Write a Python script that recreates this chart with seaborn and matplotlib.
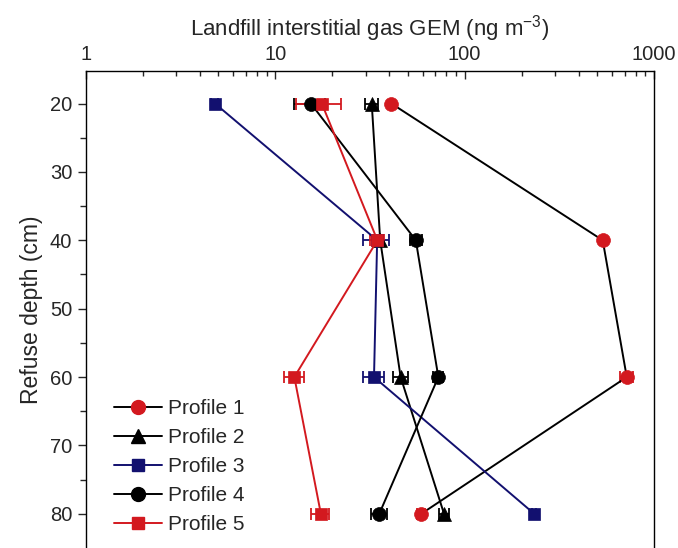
import numpy as np
import pandas as pd
import seaborn as sns
import matplotlib
matplotlib.use("Agg")
import matplotlib.pyplot as plt
from matplotlib.lines import Line2D
from matplotlib.ticker import LogLocator, FixedLocator, NullFormatter, FuncFormatter

# ---- data ----
depth = [20, 40, 60, 80]
profile_names = ["Profile 1", "Profile 2", "Profile 3", "Profile 4", "Profile 5"]
p1 = [41.0, 536.0, 718.0, 59.0]
p1_err = [0.0, 0.0, 57.0, 3.0]
p2 = [32.3, 35.8, 45.9, 77.8]
p2_err = [2.5, 0.0, 4.0, 5.0]
p3 = [4.8, 34.5, 33.2, 233.0]
p3_err = [0.2, 5.5, 4.2, 5.0]
p4 = [15.4, 55.2, 72.6, 35.4]
p4_err = [2.8, 4.0, 4.5, 3.4]
p5 = [17.6, 34.6, 12.6, 17.4]
p5_err = [4.7, 3.0, 1.5, 1.9]
x_ticks = [1, 10, 100, 1000]
y_ticks = [20, 30, 40, 50, 60, 70, 80]

RED = "#d3191f"
NAVY = "#12106f"
BLACK = "#000000"

styles = {
    "Profile 1": dict(line=BLACK, face=RED, marker="o", ms=10),
    "Profile 2": dict(line=BLACK, face=BLACK, marker="^", ms=10.5),
    "Profile 3": dict(line=NAVY, face=NAVY, marker="s", ms=9),
    "Profile 4": dict(line=BLACK, face=BLACK, marker="o", ms=10),
    "Profile 5": dict(line=RED, face=RED, marker="s", ms=9),
}
values = {"Profile 1": (p1, p1_err), "Profile 2": (p2, p2_err),
          "Profile 3": (p3, p3_err), "Profile 4": (p4, p4_err),
          "Profile 5": (p5, p5_err)}

sns.set_theme(style="ticks")
plt.rcParams["font.family"] = ["Liberation Sans", "DejaVu Sans"]
plt.rcParams["mathtext.fontset"] = "custom"
plt.rcParams["mathtext.rm"] = "Liberation Sans"

fig = plt.figure(figsize=(6.78, 5.48), dpi=100)
ax = fig.add_axes([86 / 678, 0.0, (654 - 86) / 678, (548 - 70.7) / 548])

rows = []
for name in profile_names:
    v, e = values[name]
    for d, x, er in zip(depth, v, e):
        rows.append(dict(profile=name, depth=d, gem=x, err=er))
df = pd.DataFrame(rows)

handles = []
for name in profile_names:
    st = styles[name]
    sub = df[df.profile == name]
    m = sub.err > 0
    ax.errorbar(sub.gem[m], sub.depth[m], xerr=sub.err[m], fmt="none",
                ecolor=st["face"], elinewidth=1.3, capsize=4.5, capthick=1.3, zorder=2)
    sns.lineplot(data=sub, x="gem", y="depth", ax=ax, sort=False, orient="y",
                 estimator=None, color=st["line"], linewidth=1.4,
                 marker=st["marker"], markersize=st["ms"],
                 markerfacecolor=st["face"], markeredgecolor=st["face"],
                 markeredgewidth=0.5, zorder=3, legend=False)
    handles.append(Line2D([0], [0], color=st["line"], lw=1.4, marker=st["marker"],
                          markersize=st["ms"], markerfacecolor=st["face"],
                          markeredgecolor=st["face"], label=name))

ax.set_xscale("log")
ax.set_xlim(1, 1000)
ax.set_ylim(85, 15.2)

ax.xaxis.tick_top()
ax.xaxis.set_label_position("top")
ax.set_xticks(x_ticks)
ax.xaxis.set_major_formatter(FuncFormatter(lambda v, p: f"{int(v)}"))
ax.xaxis.set_minor_locator(LogLocator(base=10, subs=np.arange(2, 10)))
ax.xaxis.set_minor_formatter(NullFormatter())
ax.set_yticks(y_ticks)
ax.yaxis.set_minor_locator(FixedLocator([25, 35, 45, 55, 65, 75]))

ax.tick_params(axis="x", which="major", direction="in", length=6, width=1.0,
               labelsize=14.5, pad=5, top=True, bottom=False)
ax.tick_params(axis="x", which="minor", direction="in", length=3.5, width=1.0,
               top=True, bottom=False)
ax.tick_params(axis="y", which="major", direction="out", length=6, width=1.0,
               labelsize=14.5, pad=4, right=False)
ax.tick_params(axis="y", which="minor", direction="out", length=4.5, width=1.0,
               right=False)

for s in ["top", "left", "right"]:
    ax.spines[s].set_visible(True)
    ax.spines[s].set_linewidth(1.0)
    ax.spines[s].set_color("black")
ax.spines["bottom"].set_visible(False)

ax.set_xlabel(r"Landfill interstitial gas GEM (ng m$^{-3}$)", fontsize=16, labelpad=7)
ax.set_ylabel("Refuse depth (cm)", fontsize=16.5, labelpad=5)

ax.legend(handles=handles, loc="upper left", bbox_to_anchor=(0.035, 0.33),
          frameon=False, fontsize=15, handlelength=2.3, handletextpad=0.3,
          labelspacing=0.48, borderaxespad=0.0)

fig.savefig("out.png", dpi=100)
